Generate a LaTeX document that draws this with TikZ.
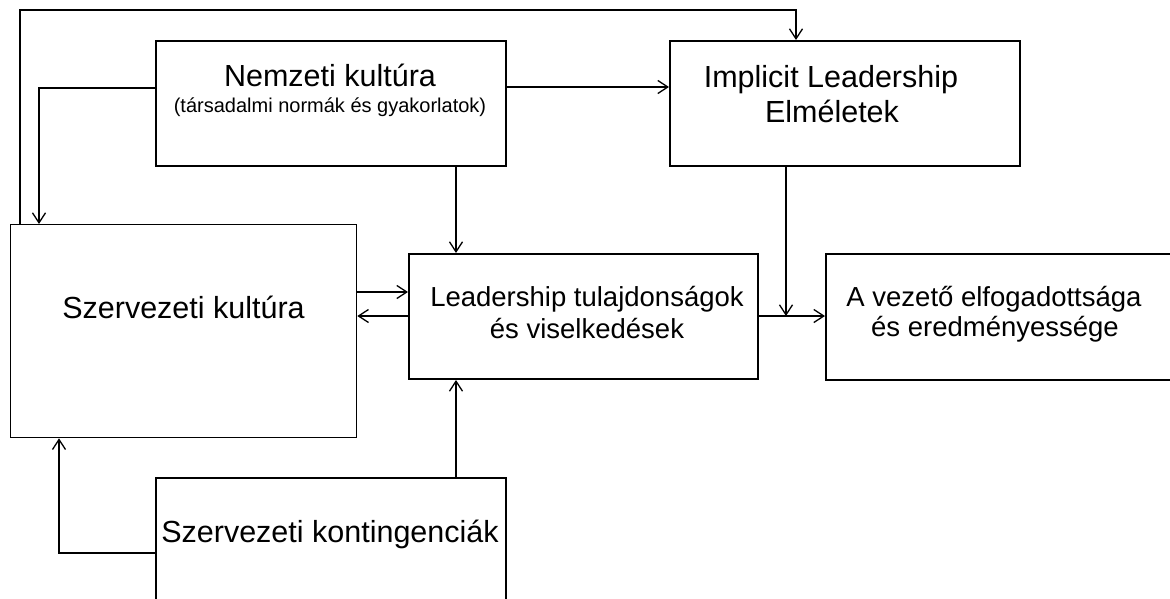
\documentclass[tikz,border=0pt]{standalone}
\usepackage{fontspec}
\setmainfont{Liberation Sans}
\usetikzlibrary{arrows.meta}
\tikzset{
  box/.style={draw, line width=2pt, inner sep=0pt, anchor=north west},
  thinbox/.style={draw, line width=1.3pt, inner sep=0pt, anchor=north west},
  arr/.style={line width=1.3pt, -{Straight Barb[length=10pt,width=13pt,line width=1.3pt]}},
  big/.style={font=\fontsize{30.5}{35}\selectfont, anchor=base, inner sep=0pt},
  mid/.style={font=\fontsize{27.5}{32}\selectfont, anchor=base, inner sep=0pt},
  small/.style={font=\fontsize{20}{24}\selectfont, anchor=base, inner sep=0pt},
}
\begin{document}
\begin{tikzpicture}[x=1pt,y=-1pt]
\useasboundingbox (0,0) rectangle (1170,598);
\clip (0,0) rectangle (1170,598);

% boxes
\node[box, minimum width=350pt, minimum height=125pt] (nk) at (155,40) {};
\node[box, minimum width=350pt, minimum height=125pt] (impl) at (669,40) {};
\node[thinbox, minimum width=346pt, minimum height=213pt] (szk) at (10,224) {};
\node[box, minimum width=349pt, minimum height=125pt] (lead) at (408,253) {};
\node[box, minimum width=380pt, minimum height=126pt] (av) at (825,253) {};
\node[box, minimum width=350pt, minimum height=160pt] (kont) at (155,477) {};

% labels
\node[big] (nkA) at (330,86) {Nemzeti kultúra};
\node[small] (nkB) at (330,112) {(társadalmi normák és gyakorlatok)};
\node[big] (implA) at (831,87) {Implicit Leadership};
\node[big] (implB) at (832,122) {Elméletek};
\node[big] (szkA) at (183.5,318) {Szervezeti kultúra};
\node[mid] (leadA) at (587,306) {Leadership tulajdonságok};
\node[mid] (leadB) at (587,338) {és viselkedések};
\node[mid] (avA) at (994,306) {A vezető elfogadottsága};
\node[mid] (avB) at (995,336) {és eredményessége};
\node[big] (kontA) at (330,542) {Szervezeti kontingenciák};

% routing points
\coordinate (topL) at (20,10);
\coordinate (topR) at (796,10);
\coordinate (nkL) at (39,88);
\coordinate (nkR) at (0,87);
\coordinate (midX) at (456,0);
\coordinate (implX) at (786,0);
\coordinate (rowA) at (0,292);
\coordinate (rowB) at (0,316);
\coordinate (kontL) at (59,553);

% connectors
\draw[arr] (szk.north west -| topL) -- (topL) -- (topR) -- (topR |- impl.north);
\draw[arr] (nk.west |- nkL) -- (nkL) -- (nkL |- szk.north);
\draw[arr] (nk.east |- nkR) -- (impl.west |- nkR);
\draw[arr] (nk.south -| midX) -- (lead.north -| midX);
\draw[arr] (impl.south -| implX) -- (implX |- rowB);
\draw[arr] (lead.east |- rowB) -- (av.west |- rowB);
\draw[arr] (szk.east |- rowA) -- (lead.west |- rowA);
\draw[arr] (lead.west |- rowB) -- (szk.east |- rowB);
\draw[arr] (kont.north -| midX) -- (lead.south -| midX);
\draw[arr] (kont.west |- kontL) -- (kontL) -- (kontL |- szk.south);
\end{tikzpicture}
\end{document}
